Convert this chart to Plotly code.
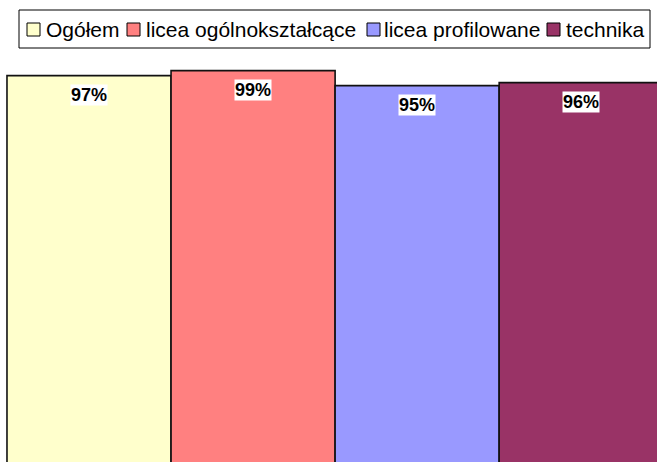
import plotly.graph_objects as go

categories = ["Ogółem", "licea ogólnokształcące", "licea profilowane", "technika"]
values = [97.35, 98.6, 94.85, 95.6]
labels = [f"{round(v)}%" for v in values]
colors = ["#FFFFCC", "#FF8080", "#9999FF", "#993366"]

FONT = "Liberation Sans, Arial, sans-serif"
W, H = 657, 462
ML, MR, MT, MB = 6, 0, 65, 0
PW, PH = W - ML - MR, H - MT - MB


def px2x(px):
    return (px - ML) / PW


def py2y(py):
    return (H - MB - py) / PH


fig = go.Figure()
for cat, v, c in zip(categories, values, colors):
    fig.add_trace(go.Bar(
        x=[cat], y=[v], name=cat, width=1,
        marker=dict(color=c, line=dict(color="#111111", width=1.6)),
        showlegend=False, hoverinfo="skip",
    ))

annotations = []
for cat, v, lab in zip(categories, values, labels):
    annotations.append(dict(
        x=cat, y=v, xref="x", yref="y", text=f"<b>{lab}</b>", showarrow=False,
        yanchor="top", yshift=-8, bgcolor="white", borderpad=0,
        font=dict(family=FONT, size=18, color="black"),
    ))

# custom legend (matching the reference layout)
shapes = [dict(type="rect", xref="paper", yref="paper",
               x0=px2x(19), x1=px2x(650), y0=py2y(48), y1=py2y(10),
               line=dict(color="black", width=1), fillcolor="white", layer="above")]
sw_left = [27, 127, 367, 547]
txt_left = [45, 145, 383, 565]
for cat, c, sx, tx in zip(categories, colors, sw_left, txt_left):
    shapes.append(dict(type="rect", xref="paper", yref="paper",
                       x0=px2x(sx), x1=px2x(sx + 13), y0=py2y(36), y1=py2y(23),
                       line=dict(color="black", width=1), fillcolor=c, layer="above"))
    annotations.append(dict(
        x=px2x(tx), y=py2y(29), xref="paper", yref="paper", text=cat,
        showarrow=False, xanchor="left", yanchor="middle", borderpad=0,
        font=dict(family=FONT, size=21, color="black"),
    ))

fig.update_layout(
    width=W, height=H,
    margin=dict(l=ML, r=MR, t=MT, b=MB, pad=0),
    paper_bgcolor="white", plot_bgcolor="white",
    barmode="overlay", showlegend=False, hovermode=False,
    xaxis=dict(visible=False, range=[-0.506, 3.462], type="category",
               categoryorder="array", categoryarray=categories),
    yaxis=dict(visible=False, range=[0.75, 100]),
    annotations=annotations, shapes=shapes,
)

fig.write_html(
    "out.html",
    config={"displayModeBar": False, "staticPlot": True},
    post_script="document.body.style.margin='0';document.body.style.overflow='hidden';",
)
